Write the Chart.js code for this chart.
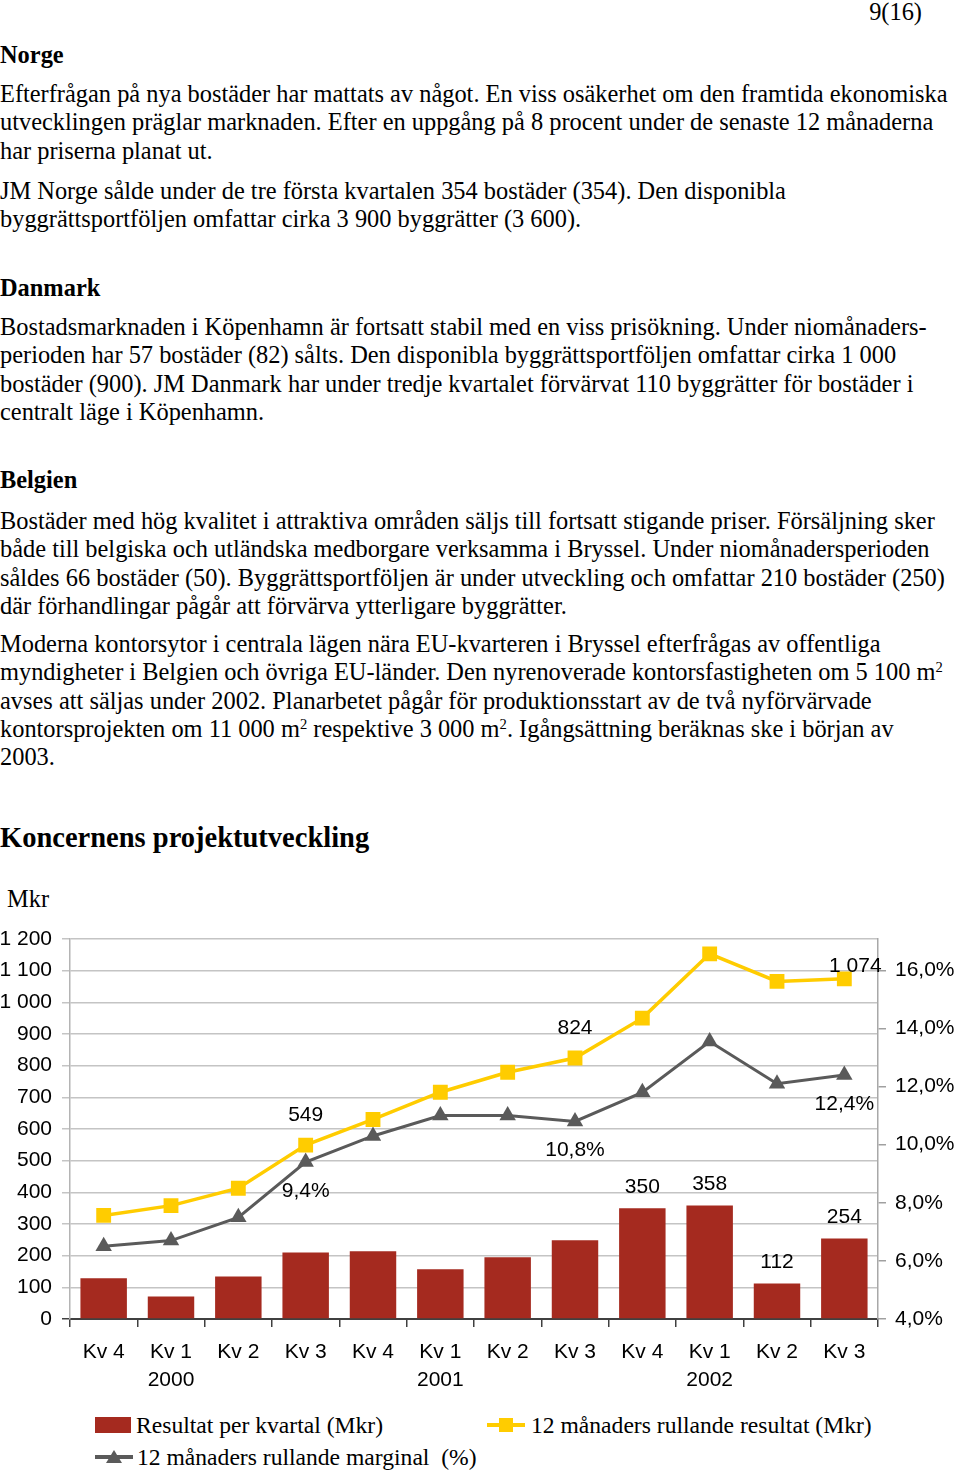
<!DOCTYPE html>
<html lang="sv">
<head>
<meta charset="utf-8">
<title>Koncernens projektutveckling</title>
<script src="https://cdn.jsdelivr.net/npm/chart.js@4.4.1/dist/chart.umd.min.js"></script>
<style>
  html, body { margin: 0; padding: 0; background: #fff; }
  body { width: 960px; height: 1471px; position: relative; overflow: hidden;
         font-family: "Liberation Serif", "Times New Roman", serif; color: #000; }
  .t { position: absolute; left: 0; font-size: 24.4px; line-height: 28.3px; white-space: nowrap; }
  .h { font-weight: bold; }
  .big { font-size: 28.5px; line-height: 34px; font-weight: bold; }
  sup { font-size: 0.6em; vertical-align: 0.55em; line-height: 0; }
  #wrap { position: absolute; left: 0; top: 915px; width: 960px; height: 490px; }
  .lg { position: absolute; font-size: 23.6px; line-height: 28px; white-space: nowrap; }
  .sw { position: absolute; }
</style>
</head>
<body>
<div class="t" style="left:auto; right:38px; top:-2px;">9(16)</div>
<div class="t h" style="top:41px;">Norge</div>
<div class="t" style="top:80px;">Efterfrågan på nya bostäder har mattats av något. En viss osäkerhet om den framtida ekonomiska<br>utvecklingen präglar marknaden. Efter en uppgång på 8 procent under de senaste 12 månaderna<br>har priserna planat ut.</div>
<div class="t" style="top:177px;">JM Norge sålde under de tre första kvartalen 354 bostäder (354). Den disponibla<br>byggrättsportföljen omfattar cirka 3 900 byggrätter (3 600).</div>
<div class="t h" style="top:274px;">Danmark</div>
<div class="t" style="top:313px;">Bostadsmarknaden i Köpenhamn är fortsatt stabil med en viss prisökning. Under niomånaders-<br>perioden har 57 bostäder (82) sålts. Den disponibla byggrättsportföljen omfattar cirka 1 000<br>bostäder (900). JM Danmark har under tredje kvartalet förvärvat 110 byggrätter för bostäder i<br>centralt läge i Köpenhamn.</div>
<div class="t h" style="top:466px;">Belgien</div>
<div class="t" style="top:507px;">Bostäder med hög kvalitet i attraktiva områden säljs till fortsatt stigande priser. Försäljning sker<br>både till belgiska och utländska medborgare verksamma i Bryssel. Under niomånadersperioden<br>såldes 66 bostäder (50). Byggrättsportföljen är under utveckling och omfattar 210 bostäder (250)<br>där förhandlingar pågår att förvärva ytterligare byggrätter.</div>
<div class="t" style="top:630px;">Moderna kontorsytor i centrala lägen nära EU-kvarteren i Bryssel efterfrågas av offentliga<br>myndigheter i Belgien och övriga EU-länder. Den nyrenoverade kontorsfastigheten om 5 100 m<sup>2</sup><br>avses att säljas under 2002. Planarbetet pågår för produktionsstart av de två nyförvärvade<br>kontorsprojekten om 11 000 m<sup>2</sup> respektive 3 000 m<sup>2</sup>. Igångsättning beräknas ske i början av<br>2003.</div>
<div class="t big" style="top:821px;">Koncernens projektutveckling</div>
<div class="t" style="left:7px; top:885px;">Mkr</div>

<div id="wrap"><canvas id="graphique" width="960" height="490"></canvas></div>

<!-- legend -->
<div class="sw" style="left:95px; top:1417px; width:36px; height:16px; background:#a52a1f;"></div>
<div class="lg" style="left:136px; top:1411px;">Resultat per kvartal (Mkr)</div>
<div class="sw" style="left:487px; top:1423px; width:38px; height:4px; background:#ffcc00;"></div>
<div class="sw" style="left:499px; top:1418px; width:14px; height:14px; background:#ffcc00;"></div>
<div class="lg" style="left:531px; top:1411px;">12 månaders rullande resultat (Mkr)</div>
<div class="sw" style="left:95px; top:1455px; width:38px; height:4px; background:#5a5a5a;"></div>
<div class="sw" style="left:106px; top:1450px; width:0; height:0; border-left:8px solid transparent; border-right:8px solid transparent; border-bottom:13px solid #5a5a5a;"></div>
<div class="lg" style="left:137px; top:1443px;">12 månaders rullande marginal&nbsp; (%)</div>

<script>
// Kvartal och år (år visas under Kv 1)
const kvartal = ["Kv 4", "Kv 1", "Kv 2", "Kv 3", "Kv 4", "Kv 1", "Kv 2", "Kv 3", "Kv 4", "Kv 1", "Kv 2", "Kv 3"];
const ar = ["", "2000", "", "", "", "2001", "", "", "", "2002", "", ""];

// Resultat per kvartal (Mkr)
const resultatKvartal = [129, 71, 134, 210, 214, 157, 195, 249, 350, 358, 112, 254];
// 12 månaders rullande resultat (Mkr)
const rullandeResultat = [327, 358, 413, 549, 630, 716, 779, 824, 950, 1153, 1066, 1074];
// 12 månaders rullande marginal (%)
const rullandeMarginal = [6.5, 6.7, 7.5, 9.4, 10.3, 11.0, 11.0, 10.8, 11.8, 13.55, 12.1, 12.4];

// Axlar
const mkrMin = 0, mkrMax = 1200, mkrSteg = 100;
const procentTicks = [4, 6, 8, 10, 12, 14, 16];
const procentMax = 17.08;

// Vilka punkter som får etikett
const etikettStaplar = [8, 9, 10, 11];
const etikettResultat = [3, 7, 11];
const etikettMarginal = [3, 7, 11];

const labels = kvartal.map((k, i) => ar[i] ? [k, ar[i]] : k);

function mellanslag(n) {
    return String(n).replace(/\B(?=(\d{3})+(?!\d))/g, " ");
}
function procent(v) {
    return v.toFixed(1).replace(".", ",") + "%";
}

const police = { family: "'Liberation Sans', Arial, sans-serif", size: 21, lineHeight: 1.33 };

// Plugin pour dessiner les étiquettes de valeurs
const etiquettes = {
    id: "etiquettes",
    afterDatasetsDraw(chart, args, opts) {
        const ctx = chart.ctx;
        ctx.save();
        ctx.font = "21px 'Liberation Sans', Arial, sans-serif";
        ctx.fillStyle = "#000";
        ctx.textAlign = "center";
        ctx.textBaseline = "middle";
        for (const g of opts.groupes) {
            const meta = chart.getDatasetMeta(g.dataset);
            const valeurs = chart.data.datasets[g.dataset].data;
            for (const i of g.index) {
                const el = meta.data[i];
                const dec = (g.decalage && g.decalage[i]) || [0, 0];
                ctx.fillText(g.format(valeurs[i]), el.x + dec[0], el.y + g.dy + dec[1]);
            }
        }
        ctx.restore();
    }
};

const data = {
    labels: labels,
    datasets: [
        {
            type: "bar",
            label: "Resultat per kvartal (Mkr)",
            data: resultatKvartal,
            backgroundColor: "#a52a1f",
            barPercentage: 0.69,
            categoryPercentage: 1,
            yAxisID: "y",
            order: 3
        },
        {
            type: "line",
            label: "12 månaders rullande resultat (Mkr)",
            data: rullandeResultat,
            borderColor: "#ffcc00",
            backgroundColor: "#ffcc00",
            borderWidth: 3.5,
            pointStyle: "rect",
            pointRadius: 10.5,
            pointBorderWidth: 0,
            tension: 0,
            yAxisID: "y",
            order: 1
        },
        {
            type: "line",
            label: "12 månaders rullande marginal (%)",
            data: rullandeMarginal,
            borderColor: "#5a5a5a",
            backgroundColor: "#5a5a5a",
            borderWidth: 3,
            pointStyle: "triangle",
            pointRadius: 9.5,
            pointBorderWidth: 0,
            tension: 0,
            yAxisID: "y1",
            order: 2
        }
    ]
};

const config = {
    data: data,
    plugins: [etiquettes],
    options: {
        responsive: false,
        animation: false,
        devicePixelRatio: 1,
        layout: { padding: { top: 13, left: 0, right: 0, bottom: 0 } },
        plugins: {
            legend: { display: false },
            tooltip: { enabled: false },
            etiquettes: {
                groupes: [
                    { dataset: 0, index: etikettStaplar, dy: -21, format: mellanslag },
                    { dataset: 1, index: etikettResultat, dy: -30, format: mellanslag, decalage: { 11: [11, 17] } },
                    { dataset: 2, index: etikettMarginal, dy: 29, format: procent }
                ]
            }
        },
        scales: {
            x: {
                offset: true,
                grid: { offset: true, drawOnChartArea: false, drawTicks: true, tickLength: 8, color: "#404040", lineWidth: 1.5 },
                border: { color: "#404040", width: 2 },
                ticks: { font: police, color: "#000", padding: 11, maxRotation: 0, autoSkip: false },
                afterFit: s => { s.height = 86; }
            },
            y: {
                position: "left",
                min: mkrMin,
                max: mkrMax,
                ticks: { stepSize: mkrSteg, font: police, color: "#000", padding: 10, callback: v => mellanslag(v) },
                grid: { color: c => c.tick && c.tick.value === 0 ? "#404040" : "#c4c4c4", lineWidth: 1.5, tickLength: 8 },
                border: { color: "#b4b4b4", width: 1.5 },
                afterFit: s => { s.width = 70; }
            },
            y1: {
                position: "right",
                min: 4,
                max: procentMax,
                afterBuildTicks: s => { s.ticks = procentTicks.map(v => ({ value: v })); },
                ticks: { font: police, color: "#000", padding: 9, callback: v => procent(v) },
                grid: { drawOnChartArea: false, tickLength: 8, color: "#a0a0a0", lineWidth: 1.5 },
                border: { color: "#a8a8a8", width: 1.5 },
                afterFit: s => { s.width = 82; }
            }
        }
    }
};

const graphique = new Chart(document.querySelector("#graphique"), config);
</script>
</body>
</html>
